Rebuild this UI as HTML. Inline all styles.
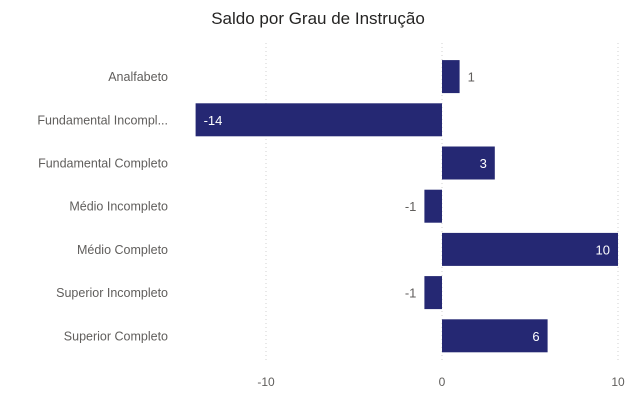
<!DOCTYPE html>
<html><head><meta charset="utf-8"><style>
body{margin:0;background:#fff;}
svg{display:block;font-family:"Liberation Sans",sans-serif;}
</style></head><body>
<svg width="642" height="407">
<text x="318" y="24" text-anchor="middle" font-size="17" fill="#252423">Saldo por Grau de Instrução</text>
<g id="grid"></g><g id="bars"></g><g id="labels"></g>
</svg>
<script>
const categories=["Analfabeto","Fundamental Incompl...","Fundamental Completo","Médio Incompleto","Médio Completo","Superior Incompleto","Superior Completo"];
const values=[1,-14,3,-1,10,-1,6];
const ticks=[-10,0,10];
const NS="http://www.w3.org/2000/svg";
const xMin=-14,xMax=10,x0=195.6,x1=618;
const x=v=>x0+(v-xMin)/(xMax-xMin)*(x1-x0);
const rowTop=55,rowH=43.2,barH=33;
const grid=document.getElementById('grid'),bars=document.getElementById('bars'),labels=document.getElementById('labels');
function mk(tag,attrs,parent){const e=document.createElementNS(NS,tag);for(const k in attrs)e.setAttribute(k,attrs[k]);parent.appendChild(e);return e;}
ticks.forEach(t=>{
 const l=mk('line',{x1:x(t),x2:x(t),y1:43,y2:362,stroke:'#d0d0d0','stroke-dasharray':'1,3'},grid);
 
 
 const tx=mk('text',{x:x(t),y:386,'text-anchor':'middle','font-size':12,fill:'#605e5c'},labels);
 tx.textContent=t;
 
 
});
categories.forEach((c,i)=>{
 const v=values[i],cy=rowTop+i*rowH+rowH/2;
 const cl=mk('text',{x:168,y:cy+4.5,'text-anchor':'end','font-size':12.5,fill:'#605e5c'},labels);
 cl.textContent=c;
 
 
 const a=x(Math.min(0,v)),b=x(Math.max(0,v));
 const r=mk('rect',{x:a,y:cy-barH/2,width:b-a,height:barH,fill:'#252873'},bars);
 
 
 const w=b-a;let lx,anchor,fill;
 if(w>40){fill='#fff';if(v<0){lx=a+8;anchor='start';}else{lx=b-8;anchor='end';}}
 else{fill='#605e5c';if(v<0){lx=a-8;anchor='end';}else{lx=b+8;anchor='start';}}
 const vl=mk('text',{x:lx,y:cy+5,'text-anchor':anchor,'font-size':13,fill:fill},labels);
 vl.textContent=v;
 
 
});
</script>
</body></html>
